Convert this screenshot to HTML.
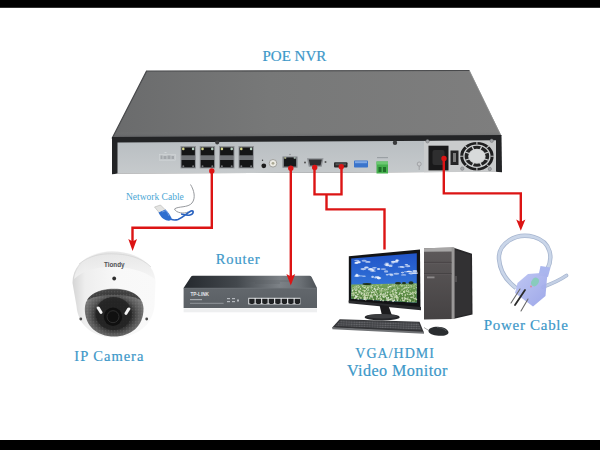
<!DOCTYPE html>
<html><head><meta charset="utf-8">
<style>
html,body{margin:0;padding:0;background:#fff;}
body{width:600px;height:450px;overflow:hidden;position:relative;}
svg{position:absolute;left:0;top:0;display:block;}
.lbl{font-family:"Liberation Serif",serif;fill:#3d98c9;stroke:#3d98c9;stroke-width:0.2;}
</style></head>
<body>
<svg width="600" height="450" viewBox="0 0 600 450">
<defs>
  <linearGradient id="nvrTopH" x1="0" y1="0" x2="1" y2="0">
    <stop offset="0" stop-color="#6a6b6c"/>
    <stop offset="0.4" stop-color="#777878"/>
    <stop offset="1" stop-color="#7e7e7e"/>
  </linearGradient>
  <linearGradient id="nvrTop" x1="0" y1="0" x2="0" y2="1">
    <stop offset="0" stop-color="#7b7c7c" stop-opacity="0"/>
    <stop offset="0.9" stop-color="#7a7b7b" stop-opacity="0"/>
    <stop offset="1" stop-color="#55565a" stop-opacity="1"/>
  </linearGradient>
  <linearGradient id="panel" x1="0" y1="0" x2="0" y2="1">
    <stop offset="0" stop-color="#b9bec2"/>
    <stop offset="1" stop-color="#c6cacc"/>
  </linearGradient>
  <linearGradient id="rtTop" x1="0" y1="0" x2="1" y2="0">
    <stop offset="0" stop-color="#25292e"/>
    <stop offset="0.4" stop-color="#43484d"/>
    <stop offset="0.72" stop-color="#7d8287"/>
    <stop offset="0.88" stop-color="#6a6f74"/>
    <stop offset="1" stop-color="#4c5156"/>
  </linearGradient>
  <linearGradient id="rtFront" x1="0" y1="0" x2="0" y2="1">
    <stop offset="0" stop-color="#62676c"/>
    <stop offset="1" stop-color="#5a5f64"/>
  </linearGradient>
  <linearGradient id="sky" x1="0" y1="0" x2="0" y2="1">
    <stop offset="0" stop-color="#2154c8"/>
    <stop offset="0.6" stop-color="#3070d6"/>
    <stop offset="1" stop-color="#4a8ae0"/>
  </linearGradient>
  <linearGradient id="field" x1="0" y1="0" x2="0" y2="1">
    <stop offset="0" stop-color="#7aa860"/>
    <stop offset="0.4" stop-color="#5f9048"/>
    <stop offset="1" stop-color="#4a7a36"/>
  </linearGradient>
  <pattern id="flowers" width="3" height="2.4" patternUnits="userSpaceOnUse">
    <circle cx="0.8" cy="0.7" r="0.6" fill="#eef3d8"/>
    <circle cx="2.3" cy="1.9" r="0.55" fill="#dfe9c0"/>
  </pattern>
  <pattern id="keys" width="2.6" height="2.1" patternUnits="userSpaceOnUse" patternTransform="rotate(2)">
    <rect x="0.3" y="0.3" width="2" height="1.4" fill="#68696d"/>
  </pattern>
  <filter id="blur" x="-20%" y="-50%" width="140%" height="200%"><feGaussianBlur stdDeviation="0.6"/></filter>
  <linearGradient id="towerFront" x1="0" y1="0" x2="0" y2="1">
    <stop offset="0" stop-color="#5e5a5b"/>
    <stop offset="1" stop-color="#454243"/>
  </linearGradient>
  <linearGradient id="camBody" x1="0" y1="0" x2="1" y2="0">
    <stop offset="0" stop-color="#d5d5d5"/>
    <stop offset="0.15" stop-color="#eeeeee"/>
    <stop offset="0.55" stop-color="#f8f8f8"/>
    <stop offset="1" stop-color="#f9f9f9"/>
  </linearGradient>
  <linearGradient id="camCap" x1="0" y1="0" x2="0" y2="1">
    <stop offset="0" stop-color="#e2e2e2"/>
    <stop offset="1" stop-color="#f4f4f4"/>
  </linearGradient>
  <radialGradient id="dome" cx="0.5" cy="0.55" r="0.6">
    <stop offset="0" stop-color="#1e1e1e"/>
    <stop offset="0.5" stop-color="#2e2e2e"/>
    <stop offset="0.68" stop-color="#5c5c5c"/>
    <stop offset="1" stop-color="#8c8c8c"/>
  </radialGradient>
  <pattern id="speck" width="3" height="3" patternUnits="userSpaceOnUse">
    <circle cx="0.7" cy="0.8" r="0.5" fill="#9a9a9a"/>
    <circle cx="2.2" cy="2.1" r="0.45" fill="#222"/>
  </pattern>
  <linearGradient id="plug" x1="0" y1="0" x2="1" y2="1">
    <stop offset="0" stop-color="#bcc4f2"/>
    <stop offset="1" stop-color="#98a3e8"/>
  </linearGradient>
</defs>

<!-- black bars -->
<rect x="0" y="0" width="600" height="7.8" fill="#000"/>
<rect x="0" y="440" width="600" height="10" fill="#000"/>

<!-- title -->
<text class="lbl" x="262.5" y="60.7" font-size="15">POE NVR</text>

<!-- ============ NVR ============ -->
<polygon points="146.5,71.2 469.5,70.5 501.5,136 112,138.5" fill="url(#nvrTopH)"/>
<polygon points="146.5,71.2 469.5,70.5 501.5,136 112,138.5" fill="url(#nvrTop)"/>
<polyline points="112,138.5 146.5,71.2 469.5,70.5" fill="none" stroke="#48494b" stroke-width="1.2"/>
<line x1="469.5" y1="71" x2="500.5" y2="135" stroke="#8f9090" stroke-width="0.8"/>

<polygon points="112,137 501.5,135 502,172.5 112,174.5" fill="#232426"/>
<polygon points="117.5,142.5 496,140.5 496,171.8 117.5,173.5" fill="url(#panel)"/>
<polygon points="117.5,173.5 496,171.8 502,172.5 502,174 112,176 112,174.5" fill="#ffffff"/>
<!-- psu plate -->
<polygon points="424,141 496,140.6 496,171.8 424,172.2" fill="#c9cbcc"/>
<!-- label -->
<rect x="159.6" y="154.3" width="16" height="6" fill="#c4c8cb" stroke="#d4d7da" stroke-width="0.5"/>
<g fill="#a3a7ab"><rect x="160.5" y="155.5" width="2" height="3.5"/><rect x="163.5" y="156" width="3" height="3"/><rect x="167.5" y="155.5" width="3" height="3.5"/><rect x="171.5" y="156" width="2.5" height="3"/></g>
<rect x="164.5" y="152" width="2" height="0.8" fill="#d8dbde"/>
<!-- 8 LAN ports -->
<g id="port">
  <rect x="180.5" y="146" width="15.4" height="22.4" fill="#8e9195"/>
  <path d="M181.5,147.4 h13.4 v8.2 h-13.4 z" fill="#141516"/>
  <path d="M181.5,160 h13.4 v7.4 h-13.4 z" fill="#141516"/>
  <rect x="181.5" y="155.6" width="13.4" height="4.4" fill="#6f7276"/>
  <circle cx="183.3" cy="148.9" r="1.3" fill="#d6d78a"/>
  <circle cx="193.1" cy="148.9" r="1.3" fill="#b5cfbf"/>
  <circle cx="183.3" cy="166.2" r="1" fill="#77797c"/>
  <circle cx="193.1" cy="166.2" r="1" fill="#77797c"/>
</g>
<use href="#port" x="19.2"/>
<use href="#port" x="38.6"/>
<use href="#port" x="58"/>
<!-- misc connectors -->
<circle cx="263.8" cy="165.8" r="2.4" fill="#1b1b1b"/>
<circle cx="262.5" cy="160.3" r="0.7" fill="#333"/>
<circle cx="273" cy="163.3" r="3.8" fill="#ecebe4" stroke="#9a9a96" stroke-width="0.9"/>
<circle cx="273" cy="163.3" r="1.4" fill="#aaa894"/>
<path d="M282.5,156.5 h15 v11.2 h-15 z" fill="#7d8084"/>
<path d="M284,158.6 h2.5 v-1 h7 v1 h2.5 v8 h-12 z" fill="#17181a"/>
<circle cx="285.2" cy="158" r="0.8" fill="#c9cf8a"/><circle cx="294.8" cy="158" r="0.8" fill="#b8d0c0"/>
<circle cx="290" cy="154.5" r="0.8" fill="#8a8c90"/>
<path d="M307,158.3 h16.5 l-1.8,8.4 h-12.9 z" fill="#8d9094"/>
<path d="M308.8,159.6 h13 l-1.3,5.9 h-10.4 z" fill="#2e2f31"/>
<circle cx="305" cy="162.5" r="1" fill="#555"/><circle cx="325.5" cy="162" r="1" fill="#555"/>
<rect x="334" y="162.3" width="13.5" height="5.2" rx="1" fill="#2a2a2b"/>
<rect x="335.5" y="163.3" width="10.5" height="2" fill="#555"/>
<rect x="354" y="160.4" width="14" height="7.2" rx="0.8" fill="#3a74cc"/>
<rect x="355" y="161.2" width="12" height="2" fill="#7fa8e4"/>
<rect x="376.5" y="161.5" width="11.5" height="12" fill="#45b04d"/>
<rect x="376.5" y="161.5" width="11.5" height="3" fill="#6cc872"/>
<rect x="378.5" y="167" width="3" height="5" fill="#1f6f29"/>
<rect x="383" y="167" width="3" height="5" fill="#1f6f29"/>
<rect x="377" y="157" width="11" height="1.2" fill="#9aa0a4"/>
<circle cx="395" cy="142.8" r="2.2" fill="#3a3b3d"/>
<circle cx="217.2" cy="142.6" r="2" fill="#3a3b3d"/>
<circle cx="419.2" cy="164" r="2" fill="#c7c9cb" stroke="#8a8c8f" stroke-width="0.6"/>
<line x1="419.2" y1="166" x2="419.2" y2="170" stroke="#8a8c8f" stroke-width="0.6"/>
<!-- psu -->
<rect x="428.5" y="145.7" width="20" height="24.7" fill="#19191a"/>
<rect x="432.5" y="150" width="12" height="15" rx="2" fill="#2e2e2f"/>
<rect x="450.5" y="150.5" width="8" height="14.5" fill="#242425"/>
<rect x="453" y="153" width="3" height="9" fill="#7a7a7a"/>
<g transform="translate(476.9,156.2) scale(1.17,1)">
<circle r="14.2" fill="#cfd1d2"/>
<circle r="13" fill="none" stroke="#1f1f20" stroke-width="2.6"/>
<g stroke="#cfd1d2" stroke-width="0.9"><line x1="0.00" y1="-11.80" x2="0.00" y2="-14.50"/><line x1="8.34" y1="-8.34" x2="10.25" y2="-10.25"/><line x1="11.80" y1="0.00" x2="14.50" y2="0.00"/><line x1="8.34" y1="8.34" x2="10.25" y2="10.25"/><line x1="0.00" y1="11.80" x2="0.00" y2="14.50"/><line x1="-8.34" y1="8.34" x2="-10.25" y2="10.25"/><line x1="-11.80" y1="0.00" x2="-14.50" y2="0.00"/><line x1="-8.34" y1="-8.34" x2="-10.25" y2="-10.25"/></g>
<circle r="9" fill="none" stroke="#232324" stroke-width="3"/>
<g stroke="#cfd1d2" stroke-width="1.1"><line x1="2.49" y1="-6.01" x2="4.13" y2="-9.98"/><line x1="6.01" y1="-2.49" x2="9.98" y2="-4.13"/><line x1="6.01" y1="2.49" x2="9.98" y2="4.13"/><line x1="2.49" y1="6.01" x2="4.13" y2="9.98"/><line x1="-2.49" y1="6.01" x2="-4.13" y2="9.98"/><line x1="-6.01" y1="2.49" x2="-9.98" y2="4.13"/><line x1="-6.01" y1="-2.49" x2="-9.98" y2="-4.13"/><line x1="-2.49" y1="-6.01" x2="-4.13" y2="-9.98"/></g>
<circle r="6.6" fill="#d8dadb"/>
</g>
<g fill="#a3a5a8" stroke="#6f7174" stroke-width="0.5">
  <circle cx="427.5" cy="141.3" r="1.7"/><circle cx="491.7" cy="140.8" r="1.7"/>
  <circle cx="462.3" cy="168.6" r="1.7"/><circle cx="489.8" cy="169" r="1.7"/>
</g>

<!-- network cable text -->
<text class="lbl" x="126" y="199.8" font-size="9.5" style="stroke-width:0;fill:#4aa6d4">Network Cable</text>
<!-- network cable icon -->
<path d="M190.5,184.5 C194,190 196,198 192,203 C188,208 178,206 174.5,209 C176,213 184,214 188,212" fill="none" stroke="#8a8d92" stroke-width="0.9"/>
<path d="M166,215 C168,219 173,221 178,219.5 C183,217.5 187,213 191,211 C194,210 194,214 190,215 C186,216 183,214 181,214" fill="none" stroke="#2a63c0" stroke-width="1.7"/>
<polygon points="154.5,207 160.5,205 165.5,210 159.5,213" fill="#e4e4e2" stroke="#a9aaa8" stroke-width="0.5"/>
<path d="M158.5,212.5 L165.5,209.5 C168,212 170,215 171.5,218 C172,220 170,221 167,220.5 C163,219.5 160,216 158.5,212.5 Z" fill="#2f6fcf"/><path d="M162,212 L166,210.5 C167.5,212.5 168.5,214.5 169,216" fill="none" stroke="#7fa8e8" stroke-width="0.7"/>

<!-- ============ camera ============ -->
<path d="M72.5,283 C72.5,262 92,251.2 112,251.2 C136,251.2 155.5,263 155.5,282 L154.5,306 C152.5,326 136,337.5 114,337.5 C94,337.5 78,326 76.5,306 Z" fill="url(#camBody)"/>
<path d="M74,279 C76,262 95,251.5 112,251.5 C134,251.5 153,262 155,279 C142,270 129,267 112,267 C96,267 84,270 74,279 Z" fill="url(#camCap)" opacity="0.8"/>
<path d="M79,264 C90,255.5 100,253.8 111,253.8 C126,253.8 141,257 151,267" fill="none" stroke="#d2d2d2" stroke-width="0.7"/>
<text x="104" y="267.2" font-family="Liberation Sans,sans-serif" font-weight="bold" font-size="7.6" textLength="20.6" lengthAdjust="spacingAndGlyphs" fill="#4f5154">Tiondy</text>
<circle cx="114.2" cy="278.5" r="1.9" fill="#2e2e2e"/>
<path d="M84.8,309 C84.8,296 97,288.7 114,288.7 C131,288.7 143.5,296 143.5,309 C143.5,326 131,336.5 114,336.5 C97,336.5 84.8,326 84.8,309 Z" fill="url(#dome)"/>
<path d="M87,300 C92,292 102,289.5 114,289.5 C126,289.5 136,292 141,300 C133,296 124,295 114,295 C104,295 95,296 87,300 Z" fill="#2c2c2c" opacity="0.7"/>
<path d="M84.8,309 C84.8,296 97,288.7 114,288.7 C131,288.7 143.5,296 143.5,309 C143.5,326 131,336.5 114,336.5 C97,336.5 84.8,326 84.8,309 Z" fill="url(#speck)" opacity="0.35"/>
<ellipse cx="113.5" cy="313.5" rx="18" ry="16.5" fill="#232323" opacity="0.85"/>
<circle cx="113" cy="316.7" r="9.2" fill="#101010"/>
<circle cx="113" cy="316.7" r="6" fill="none" stroke="#2e2e2e" stroke-width="1"/>
<path d="M96.5,308 C96.5,306.5 98.5,306 99.5,307 L102.5,312 C103,313.5 101,314.5 100,313.5 Z" fill="#f4f4f4"/>
<path d="M130.5,309 C130.5,307.5 128.5,307 127.5,308 L124.5,313 C124,314.5 126,315.5 127,314.5 Z" fill="#f4f4f4"/>
<circle cx="80.8" cy="319" r="1.4" fill="#4a4a4a"/>
<circle cx="146.7" cy="319" r="1.4" fill="#4a4a4a"/>
<text class="lbl" x="74.3" y="360.5" font-size="14.5" letter-spacing="1.0">IP Camera</text>

<!-- ============ router ============ -->
<text class="lbl" x="215.7" y="264.3" font-size="14.5" letter-spacing="0.9">Router</text>
<path d="M193,275.8 L309.5,275.8 Q310.8,275.8 311.6,277.1 L317,288 L183.6,288 L190.8,277.1 Q191.5,275.8 193,275.8 Z" fill="url(#rtTop)"/>
<g stroke="#50555a" stroke-width="0.5" opacity="0.8"><line x1="245" y1="281" x2="290" y2="281"/><line x1="255" y1="283" x2="280" y2="283"/></g>
<polygon points="183.6,288 317,288 317,308 183.6,308" fill="url(#rtFront)"/>
<line x1="183.6" y1="288.2" x2="317" y2="288.2" stroke="#767b80" stroke-width="0.6"/>
<rect x="183.6" y="308.3" width="133.4" height="4" fill="#eeeff0"/>
<text x="190.5" y="296" font-family="Liberation Sans,sans-serif" font-weight="bold" font-size="4.8" textLength="18.5" lengthAdjust="spacingAndGlyphs" fill="#e2e5e8">TP-LINK</text>
<rect x="190" y="299" width="12" height="1.2" fill="#a7abb0"/>
<rect x="190" y="302.8" width="33.6" height="1" fill="#90949a"/>
<g fill="#b5b9be"><rect x="227" y="298" width="3" height="1.2"/><rect x="232" y="298" width="3" height="1.2"/><rect x="227" y="301" width="3" height="1.2"/><rect x="232" y="301" width="3" height="1.2"/><rect x="237" y="299.5" width="2" height="2"/></g>
<rect x="248.3" y="297.8" width="52.1" height="6.6" fill="#e7e9eb"/>
<g id="rp" fill="#1f2123">
  <path d="M249.2,298.8 h5.4 v4.6 h-1.2 v0.6 h-3 v-0.6 h-1.2 z"/>
</g>
<use href="#rp" x="6.5"/><use href="#rp" x="13"/><use href="#rp" x="19.5"/><use href="#rp" x="26"/><use href="#rp" x="32.5"/><use href="#rp" x="39"/><use href="#rp" x="45.5"/>

<!-- ============ monitor ============ -->
<polygon points="348.8,256.2 420,249.6 420.5,309 348.8,302" fill="#121315"/>
<polygon points="351.2,258.4 416.8,253.3 416.8,302.8 351.2,298.8" fill="url(#sky)"/>
<g fill="#f4f8ff" filter="url(#blur)"><ellipse cx="358.9" cy="262.1" rx="1.9" ry="1.0" opacity="0.70"/><ellipse cx="356.8" cy="260.5" rx="2.7" ry="0.8" opacity="0.54"/><ellipse cx="367.9" cy="261.9" rx="2.7" ry="0.9" opacity="0.71"/><ellipse cx="357.8" cy="262.4" rx="2.8" ry="0.9" opacity="0.75"/><ellipse cx="364.1" cy="260.7" rx="2.6" ry="1.0" opacity="0.57"/><ellipse cx="356.4" cy="263.1" rx="2.1" ry="1.0" opacity="0.80"/><ellipse cx="371.0" cy="269.3" rx="1.9" ry="1.1" opacity="0.63"/><ellipse cx="374.1" cy="269.1" rx="1.4" ry="0.7" opacity="0.54"/><ellipse cx="374.5" cy="267.8" rx="2.3" ry="0.8" opacity="0.65"/><ellipse cx="366.4" cy="267.6" rx="2.3" ry="1.0" opacity="0.81"/><ellipse cx="370.5" cy="269.3" rx="2.7" ry="1.2" opacity="0.72"/><ellipse cx="363.3" cy="269.1" rx="2.9" ry="1.1" opacity="0.68"/><ellipse cx="383.4" cy="269.1" rx="2.7" ry="0.9" opacity="0.56"/><ellipse cx="373.0" cy="271.1" rx="3.0" ry="0.7" opacity="0.77"/><ellipse cx="378.6" cy="269.0" rx="1.7" ry="1.1" opacity="0.80"/><ellipse cx="372.7" cy="270.3" rx="1.3" ry="1.0" opacity="0.58"/><ellipse cx="386.1" cy="271.4" rx="2.1" ry="1.2" opacity="0.57"/><ellipse cx="373.2" cy="270.3" rx="1.3" ry="0.7" opacity="0.61"/><ellipse cx="387.1" cy="264.0" rx="1.3" ry="1.1" opacity="0.58"/><ellipse cx="390.6" cy="266.2" rx="1.9" ry="0.9" opacity="0.66"/><ellipse cx="387.4" cy="265.3" rx="2.2" ry="1.0" opacity="0.83"/><ellipse cx="386.1" cy="264.8" rx="2.5" ry="0.7" opacity="0.57"/><ellipse cx="390.8" cy="265.1" rx="2.2" ry="0.6" opacity="0.62"/><ellipse cx="386.8" cy="263.6" rx="2.3" ry="1.0" opacity="0.47"/><ellipse cx="396.0" cy="261.9" rx="2.4" ry="0.8" opacity="0.73"/><ellipse cx="396.9" cy="260.6" rx="1.3" ry="1.0" opacity="0.84"/><ellipse cx="393.0" cy="261.9" rx="2.3" ry="0.8" opacity="0.60"/><ellipse cx="393.5" cy="261.6" rx="2.3" ry="0.8" opacity="0.60"/><ellipse cx="397.2" cy="260.6" rx="2.2" ry="1.0" opacity="0.57"/><ellipse cx="392.8" cy="262.9" rx="1.6" ry="0.7" opacity="0.62"/><ellipse cx="406.4" cy="264.8" rx="1.8" ry="0.8" opacity="0.78"/><ellipse cx="403.3" cy="267.1" rx="1.5" ry="0.8" opacity="0.71"/><ellipse cx="408.6" cy="265.9" rx="1.6" ry="0.7" opacity="0.66"/><ellipse cx="400.3" cy="266.9" rx="2.7" ry="0.7" opacity="0.56"/><ellipse cx="407.7" cy="266.4" rx="2.7" ry="0.8" opacity="0.50"/><ellipse cx="401.5" cy="266.9" rx="1.7" ry="0.8" opacity="0.62"/><ellipse cx="406.7" cy="271.7" rx="2.9" ry="0.7" opacity="0.45"/><ellipse cx="415.1" cy="273.1" rx="3.0" ry="0.9" opacity="0.83"/><ellipse cx="414.8" cy="271.2" rx="2.5" ry="1.1" opacity="0.72"/><ellipse cx="408.3" cy="271.4" rx="1.8" ry="0.7" opacity="0.48"/><ellipse cx="409.4" cy="271.4" rx="2.7" ry="0.6" opacity="0.81"/><ellipse cx="411.1" cy="273.3" rx="2.8" ry="1.1" opacity="0.68"/><ellipse cx="387.2" cy="274.7" rx="1.5" ry="0.8" opacity="0.72"/><ellipse cx="396.4" cy="273.7" rx="2.9" ry="1.0" opacity="0.59"/><ellipse cx="391.5" cy="275.1" rx="2.1" ry="1.1" opacity="0.59"/><ellipse cx="390.6" cy="274.1" rx="2.7" ry="0.7" opacity="0.77"/><ellipse cx="403.6" cy="274.9" rx="2.7" ry="0.6" opacity="0.70"/><ellipse cx="402.5" cy="272.6" rx="1.7" ry="0.8" opacity="0.66"/><ellipse cx="360.9" cy="275.9" rx="2.6" ry="0.6" opacity="0.47"/><ellipse cx="356.8" cy="274.9" rx="1.3" ry="1.2" opacity="0.79"/><ellipse cx="356.2" cy="276.0" rx="1.8" ry="0.8" opacity="0.59"/><ellipse cx="364.1" cy="276.3" rx="1.8" ry="0.7" opacity="0.58"/><ellipse cx="356.7" cy="276.2" rx="2.5" ry="0.8" opacity="0.48"/><ellipse cx="357.5" cy="275.6" rx="2.3" ry="1.1" opacity="0.60"/><ellipse cx="378.0" cy="277.4" rx="2.0" ry="0.8" opacity="0.65"/><ellipse cx="377.0" cy="276.8" rx="2.4" ry="0.9" opacity="0.55"/><ellipse cx="375.4" cy="277.6" rx="1.3" ry="0.9" opacity="0.62"/><ellipse cx="378.8" cy="278.3" rx="1.9" ry="1.1" opacity="0.77"/><ellipse cx="372.6" cy="276.9" rx="1.4" ry="1.1" opacity="0.71"/><ellipse cx="378.9" cy="277.9" rx="2.4" ry="1.0" opacity="0.68"/></g>
<polygon points="351.2,284.6 416.8,283.2 416.8,302.8 351.2,298.8" fill="url(#field)"/>
<g opacity="0.8"><circle cx="380.9" cy="293.4" r="0.75" fill="#dfe9c6"/><circle cx="380.9" cy="298.1" r="0.54" fill="#cfe0b0"/><circle cx="382.4" cy="294.3" r="0.48" fill="#dfe9c6"/><circle cx="371.2" cy="286.1" r="0.54" fill="#f4f6e6"/><circle cx="390.2" cy="290.9" r="0.52" fill="#cfe0b0"/><circle cx="393.8" cy="294.8" r="0.74" fill="#f4f6e6"/><circle cx="355.4" cy="287.7" r="0.39" fill="#f4f6e6"/><circle cx="402.1" cy="289.9" r="0.55" fill="#e8efd0"/><circle cx="385.2" cy="294.8" r="0.61" fill="#f4f6e6"/><circle cx="381.2" cy="289.0" r="0.67" fill="#f4f6e6"/><circle cx="397.5" cy="289.6" r="0.42" fill="#ffffff"/><circle cx="353.4" cy="292.8" r="0.44" fill="#f4f6e6"/><circle cx="406.5" cy="291.0" r="0.70" fill="#f4f6e6"/><circle cx="365.4" cy="298.4" r="0.49" fill="#dfe9c6"/><circle cx="415.2" cy="291.3" r="0.39" fill="#e8efd0"/><circle cx="402.1" cy="288.9" r="0.36" fill="#ffffff"/><circle cx="352.5" cy="290.7" r="0.70" fill="#e8efd0"/><circle cx="367.5" cy="286.3" r="0.32" fill="#dfe9c6"/><circle cx="363.0" cy="293.0" r="0.57" fill="#e8efd0"/><circle cx="415.5" cy="298.2" r="0.62" fill="#dfe9c6"/><circle cx="359.1" cy="290.9" r="0.44" fill="#ffffff"/><circle cx="407.7" cy="301.6" r="0.76" fill="#f4f6e6"/><circle cx="365.2" cy="290.6" r="0.67" fill="#cfe0b0"/><circle cx="358.0" cy="298.9" r="0.58" fill="#ffffff"/><circle cx="352.1" cy="293.4" r="0.74" fill="#dfe9c6"/><circle cx="356.3" cy="286.3" r="0.47" fill="#e8efd0"/><circle cx="352.5" cy="290.2" r="0.57" fill="#e8efd0"/><circle cx="413.8" cy="292.8" r="0.59" fill="#dfe9c6"/><circle cx="363.4" cy="287.2" r="0.59" fill="#cfe0b0"/><circle cx="367.7" cy="287.6" r="0.55" fill="#cfe0b0"/><circle cx="364.3" cy="298.7" r="0.88" fill="#cfe0b0"/><circle cx="356.6" cy="285.7" r="0.32" fill="#cfe0b0"/><circle cx="414.1" cy="288.3" r="0.56" fill="#ffffff"/><circle cx="378.9" cy="298.8" r="0.69" fill="#cfe0b0"/><circle cx="362.9" cy="295.3" r="0.45" fill="#e8efd0"/><circle cx="382.7" cy="295.0" r="0.66" fill="#f4f6e6"/><circle cx="369.7" cy="298.5" r="0.56" fill="#f4f6e6"/><circle cx="356.0" cy="290.8" r="0.45" fill="#f4f6e6"/><circle cx="363.0" cy="290.2" r="0.56" fill="#e8efd0"/><circle cx="357.5" cy="287.0" r="0.45" fill="#ffffff"/><circle cx="394.2" cy="296.0" r="0.66" fill="#e8efd0"/><circle cx="389.8" cy="299.7" r="0.69" fill="#ffffff"/><circle cx="397.1" cy="300.8" r="0.48" fill="#f4f6e6"/><circle cx="382.8" cy="296.2" r="0.56" fill="#f4f6e6"/><circle cx="356.4" cy="292.6" r="0.68" fill="#e8efd0"/><circle cx="403.1" cy="300.3" r="0.63" fill="#dfe9c6"/><circle cx="410.1" cy="299.8" r="0.64" fill="#f4f6e6"/><circle cx="407.6" cy="294.3" r="0.64" fill="#dfe9c6"/><circle cx="376.1" cy="284.9" r="0.30" fill="#f4f6e6"/><circle cx="393.1" cy="301.0" r="0.90" fill="#ffffff"/><circle cx="376.7" cy="296.1" r="0.68" fill="#dfe9c6"/><circle cx="381.6" cy="293.2" r="0.59" fill="#cfe0b0"/><circle cx="353.4" cy="293.3" r="0.59" fill="#e8efd0"/><circle cx="413.7" cy="286.0" r="0.54" fill="#dfe9c6"/><circle cx="368.1" cy="285.0" r="0.37" fill="#cfe0b0"/><circle cx="364.7" cy="287.4" r="0.60" fill="#dfe9c6"/><circle cx="383.9" cy="288.4" r="0.46" fill="#ffffff"/><circle cx="364.4" cy="291.2" r="0.66" fill="#e8efd0"/><circle cx="408.7" cy="290.9" r="0.56" fill="#ffffff"/><circle cx="365.1" cy="286.9" r="0.41" fill="#f4f6e6"/><circle cx="397.7" cy="300.6" r="0.60" fill="#e8efd0"/><circle cx="358.8" cy="291.6" r="0.72" fill="#dfe9c6"/><circle cx="376.4" cy="292.7" r="0.64" fill="#cfe0b0"/><circle cx="380.9" cy="285.7" r="0.30" fill="#cfe0b0"/><circle cx="354.2" cy="294.8" r="0.66" fill="#ffffff"/><circle cx="393.7" cy="293.8" r="0.64" fill="#dfe9c6"/><circle cx="381.1" cy="285.0" r="0.52" fill="#e8efd0"/><circle cx="402.2" cy="298.1" r="0.87" fill="#f4f6e6"/><circle cx="380.5" cy="294.5" r="0.67" fill="#ffffff"/><circle cx="413.8" cy="296.6" r="0.50" fill="#dfe9c6"/><circle cx="368.1" cy="295.4" r="0.74" fill="#cfe0b0"/><circle cx="397.9" cy="287.3" r="0.40" fill="#ffffff"/><circle cx="386.6" cy="299.9" r="0.70" fill="#e8efd0"/><circle cx="377.1" cy="296.9" r="0.84" fill="#f4f6e6"/><circle cx="378.2" cy="298.6" r="0.64" fill="#dfe9c6"/><circle cx="381.0" cy="294.5" r="0.77" fill="#dfe9c6"/><circle cx="387.3" cy="295.1" r="0.62" fill="#ffffff"/><circle cx="381.6" cy="294.9" r="0.49" fill="#f4f6e6"/><circle cx="365.4" cy="298.0" r="0.91" fill="#ffffff"/><circle cx="386.4" cy="297.3" r="0.58" fill="#f4f6e6"/><circle cx="374.2" cy="286.0" r="0.43" fill="#cfe0b0"/><circle cx="378.9" cy="288.9" r="0.64" fill="#e8efd0"/><circle cx="404.1" cy="285.2" r="0.53" fill="#e8efd0"/><circle cx="386.2" cy="295.6" r="0.80" fill="#dfe9c6"/><circle cx="361.2" cy="292.3" r="0.66" fill="#dfe9c6"/><circle cx="413.0" cy="293.0" r="0.74" fill="#f4f6e6"/><circle cx="400.8" cy="291.8" r="0.57" fill="#cfe0b0"/><circle cx="393.0" cy="293.1" r="0.71" fill="#cfe0b0"/><circle cx="368.2" cy="294.8" r="0.81" fill="#cfe0b0"/><circle cx="365.0" cy="297.3" r="0.89" fill="#cfe0b0"/><circle cx="369.2" cy="292.2" r="0.54" fill="#f4f6e6"/><circle cx="384.2" cy="294.3" r="0.41" fill="#f4f6e6"/><circle cx="385.0" cy="291.0" r="0.65" fill="#cfe0b0"/><circle cx="359.4" cy="286.3" r="0.35" fill="#cfe0b0"/><circle cx="381.3" cy="299.2" r="0.84" fill="#dfe9c6"/><circle cx="369.0" cy="291.9" r="0.42" fill="#dfe9c6"/><circle cx="410.1" cy="301.0" r="0.90" fill="#cfe0b0"/><circle cx="372.1" cy="287.6" r="0.51" fill="#ffffff"/><circle cx="359.9" cy="296.0" r="0.45" fill="#e8efd0"/><circle cx="361.6" cy="285.1" r="0.36" fill="#ffffff"/><circle cx="367.4" cy="292.2" r="0.57" fill="#cfe0b0"/><circle cx="359.5" cy="292.2" r="0.48" fill="#e8efd0"/><circle cx="397.1" cy="299.3" r="0.47" fill="#dfe9c6"/><circle cx="405.1" cy="295.0" r="0.62" fill="#cfe0b0"/><circle cx="393.0" cy="293.2" r="0.71" fill="#cfe0b0"/><circle cx="389.6" cy="286.6" r="0.59" fill="#ffffff"/><circle cx="410.2" cy="289.7" r="0.45" fill="#e8efd0"/><circle cx="365.7" cy="299.5" r="0.91" fill="#e8efd0"/><circle cx="409.3" cy="286.4" r="0.33" fill="#dfe9c6"/><circle cx="357.8" cy="296.7" r="0.63" fill="#e8efd0"/><circle cx="364.5" cy="294.0" r="0.73" fill="#f4f6e6"/><circle cx="364.6" cy="294.8" r="0.80" fill="#ffffff"/><circle cx="359.0" cy="292.1" r="0.67" fill="#cfe0b0"/><circle cx="416.4" cy="299.4" r="0.81" fill="#dfe9c6"/><circle cx="358.4" cy="285.6" r="0.45" fill="#cfe0b0"/><circle cx="410.3" cy="292.7" r="0.45" fill="#f4f6e6"/><circle cx="364.8" cy="297.1" r="0.89" fill="#f4f6e6"/><circle cx="389.2" cy="286.6" r="0.52" fill="#f4f6e6"/><circle cx="401.2" cy="289.9" r="0.51" fill="#cfe0b0"/><circle cx="374.5" cy="287.9" r="0.44" fill="#f4f6e6"/><circle cx="406.4" cy="287.3" r="0.46" fill="#ffffff"/><circle cx="377.8" cy="287.7" r="0.37" fill="#cfe0b0"/><circle cx="403.0" cy="289.8" r="0.37" fill="#dfe9c6"/><circle cx="388.5" cy="287.5" r="0.50" fill="#ffffff"/><circle cx="403.8" cy="288.7" r="0.63" fill="#e8efd0"/><circle cx="404.5" cy="291.3" r="0.68" fill="#cfe0b0"/><circle cx="396.7" cy="297.4" r="0.77" fill="#dfe9c6"/><circle cx="364.9" cy="287.6" r="0.57" fill="#ffffff"/><circle cx="382.0" cy="284.7" r="0.38" fill="#cfe0b0"/><circle cx="354.7" cy="288.9" r="0.66" fill="#ffffff"/><circle cx="373.5" cy="294.8" r="0.65" fill="#cfe0b0"/><circle cx="356.5" cy="292.2" r="0.57" fill="#e8efd0"/><circle cx="397.1" cy="297.3" r="0.86" fill="#f4f6e6"/><circle cx="359.0" cy="286.6" r="0.37" fill="#dfe9c6"/><circle cx="377.6" cy="285.4" r="0.35" fill="#dfe9c6"/><circle cx="352.2" cy="288.7" r="0.42" fill="#ffffff"/><circle cx="387.3" cy="292.7" r="0.75" fill="#cfe0b0"/><circle cx="406.5" cy="285.8" r="0.43" fill="#f4f6e6"/><circle cx="387.2" cy="295.4" r="0.81" fill="#dfe9c6"/><circle cx="412.0" cy="286.8" r="0.46" fill="#e8efd0"/><circle cx="407.1" cy="293.8" r="0.62" fill="#dfe9c6"/><circle cx="412.9" cy="291.7" r="0.56" fill="#cfe0b0"/><circle cx="371.8" cy="292.8" r="0.57" fill="#ffffff"/><circle cx="387.9" cy="289.1" r="0.58" fill="#ffffff"/><circle cx="353.2" cy="295.6" r="0.69" fill="#e8efd0"/><circle cx="378.1" cy="295.3" r="0.44" fill="#ffffff"/><circle cx="400.1" cy="285.0" r="0.58" fill="#ffffff"/><circle cx="356.3" cy="297.6" r="0.66" fill="#dfe9c6"/><circle cx="367.8" cy="296.0" r="0.45" fill="#f4f6e6"/><circle cx="412.4" cy="297.2" r="0.62" fill="#e8efd0"/><circle cx="390.7" cy="286.3" r="0.49" fill="#dfe9c6"/><circle cx="359.2" cy="297.1" r="0.61" fill="#e8efd0"/><circle cx="359.6" cy="291.3" r="0.61" fill="#dfe9c6"/><circle cx="390.6" cy="295.0" r="0.69" fill="#ffffff"/><circle cx="402.1" cy="293.4" r="0.77" fill="#ffffff"/><circle cx="399.2" cy="288.3" r="0.36" fill="#ffffff"/><circle cx="402.5" cy="295.1" r="0.55" fill="#ffffff"/><circle cx="391.1" cy="296.4" r="0.72" fill="#e8efd0"/><circle cx="392.7" cy="297.0" r="0.51" fill="#e8efd0"/><circle cx="384.1" cy="295.0" r="0.49" fill="#f4f6e6"/><circle cx="392.3" cy="284.5" r="0.36" fill="#f4f6e6"/><circle cx="392.0" cy="286.0" r="0.46" fill="#f4f6e6"/><circle cx="400.6" cy="300.1" r="0.54" fill="#e8efd0"/><circle cx="392.5" cy="290.6" r="0.52" fill="#e8efd0"/><circle cx="373.5" cy="292.3" r="0.43" fill="#f4f6e6"/><circle cx="403.6" cy="292.0" r="0.67" fill="#e8efd0"/><circle cx="380.4" cy="296.4" r="0.60" fill="#e8efd0"/><circle cx="375.5" cy="294.7" r="0.82" fill="#ffffff"/><circle cx="370.4" cy="296.2" r="0.79" fill="#e8efd0"/><circle cx="379.3" cy="290.4" r="0.39" fill="#ffffff"/><circle cx="356.6" cy="286.2" r="0.46" fill="#dfe9c6"/><circle cx="404.5" cy="292.3" r="0.68" fill="#f4f6e6"/><circle cx="356.4" cy="288.0" r="0.54" fill="#f4f6e6"/><circle cx="396.7" cy="292.7" r="0.67" fill="#ffffff"/><circle cx="369.9" cy="286.9" r="0.42" fill="#ffffff"/><circle cx="375.3" cy="286.5" r="0.52" fill="#cfe0b0"/><circle cx="390.2" cy="299.4" r="0.78" fill="#ffffff"/><circle cx="380.0" cy="297.2" r="0.57" fill="#ffffff"/><circle cx="365.9" cy="299.0" r="0.82" fill="#cfe0b0"/><circle cx="367.6" cy="290.2" r="0.48" fill="#ffffff"/><circle cx="395.5" cy="294.2" r="0.71" fill="#cfe0b0"/><circle cx="375.4" cy="290.7" r="0.41" fill="#cfe0b0"/><circle cx="388.1" cy="287.3" r="0.55" fill="#ffffff"/><circle cx="404.3" cy="288.0" r="0.34" fill="#e8efd0"/><circle cx="388.4" cy="300.3" r="0.78" fill="#dfe9c6"/><circle cx="355.7" cy="292.6" r="0.70" fill="#f4f6e6"/><circle cx="373.2" cy="288.9" r="0.37" fill="#ffffff"/><circle cx="357.0" cy="293.9" r="0.47" fill="#dfe9c6"/><circle cx="367.5" cy="288.1" r="0.57" fill="#cfe0b0"/><circle cx="373.5" cy="291.7" r="0.50" fill="#ffffff"/><circle cx="395.2" cy="292.7" r="0.58" fill="#f4f6e6"/><circle cx="397.5" cy="300.0" r="0.65" fill="#ffffff"/><circle cx="407.0" cy="298.5" r="0.81" fill="#dfe9c6"/><circle cx="413.8" cy="295.7" r="0.62" fill="#f4f6e6"/><circle cx="403.6" cy="291.6" r="0.52" fill="#e8efd0"/><circle cx="367.5" cy="287.2" r="0.51" fill="#e8efd0"/><circle cx="372.4" cy="290.6" r="0.55" fill="#ffffff"/><circle cx="414.5" cy="285.0" r="0.38" fill="#f4f6e6"/><circle cx="371.2" cy="287.1" r="0.60" fill="#f4f6e6"/><circle cx="400.5" cy="284.4" r="0.42" fill="#f4f6e6"/><circle cx="371.8" cy="287.7" r="0.43" fill="#cfe0b0"/><circle cx="366.8" cy="295.4" r="0.68" fill="#e8efd0"/><circle cx="380.2" cy="298.7" r="0.64" fill="#ffffff"/><circle cx="392.2" cy="300.1" r="0.73" fill="#ffffff"/><circle cx="383.0" cy="291.0" r="0.71" fill="#cfe0b0"/><circle cx="401.7" cy="285.7" r="0.56" fill="#dfe9c6"/><circle cx="354.7" cy="298.1" r="0.85" fill="#dfe9c6"/><circle cx="414.9" cy="298.7" r="0.78" fill="#f4f6e6"/><circle cx="394.2" cy="288.3" r="0.33" fill="#dfe9c6"/><circle cx="410.3" cy="292.2" r="0.46" fill="#dfe9c6"/><circle cx="390.9" cy="287.0" r="0.36" fill="#ffffff"/><circle cx="360.9" cy="297.9" r="0.84" fill="#e8efd0"/><circle cx="392.9" cy="301.0" r="0.61" fill="#cfe0b0"/><circle cx="354.9" cy="293.0" r="0.46" fill="#e8efd0"/><circle cx="404.9" cy="299.1" r="0.82" fill="#f4f6e6"/><circle cx="374.4" cy="294.1" r="0.62" fill="#dfe9c6"/><circle cx="396.6" cy="285.7" r="0.52" fill="#cfe0b0"/><circle cx="407.2" cy="289.5" r="0.61" fill="#dfe9c6"/><circle cx="364.0" cy="294.8" r="0.74" fill="#dfe9c6"/><circle cx="365.0" cy="292.8" r="0.59" fill="#e8efd0"/><circle cx="413.0" cy="301.7" r="0.62" fill="#dfe9c6"/><circle cx="356.4" cy="289.3" r="0.50" fill="#f4f6e6"/><circle cx="374.9" cy="295.2" r="0.46" fill="#dfe9c6"/><circle cx="395.4" cy="297.0" r="0.77" fill="#f4f6e6"/><circle cx="394.0" cy="284.5" r="0.39" fill="#dfe9c6"/><circle cx="366.9" cy="293.2" r="0.57" fill="#f4f6e6"/><circle cx="407.1" cy="299.2" r="0.77" fill="#cfe0b0"/><circle cx="361.4" cy="293.9" r="0.79" fill="#ffffff"/><circle cx="413.5" cy="297.9" r="0.67" fill="#f4f6e6"/><circle cx="368.2" cy="287.8" r="0.55" fill="#ffffff"/><circle cx="371.6" cy="288.9" r="0.49" fill="#ffffff"/><circle cx="380.5" cy="290.6" r="0.39" fill="#cfe0b0"/><circle cx="357.6" cy="294.5" r="0.71" fill="#e8efd0"/><circle cx="364.1" cy="285.5" r="0.42" fill="#f4f6e6"/><circle cx="358.0" cy="285.5" r="0.57" fill="#dfe9c6"/><circle cx="377.9" cy="285.8" r="0.57" fill="#dfe9c6"/><circle cx="411.7" cy="286.5" r="0.37" fill="#e8efd0"/><circle cx="404.9" cy="290.9" r="0.48" fill="#dfe9c6"/><circle cx="392.0" cy="296.5" r="0.69" fill="#ffffff"/><circle cx="415.3" cy="298.6" r="0.73" fill="#cfe0b0"/><circle cx="385.9" cy="288.7" r="0.39" fill="#ffffff"/><circle cx="393.8" cy="286.1" r="0.42" fill="#cfe0b0"/><circle cx="373.1" cy="289.2" r="0.37" fill="#e8efd0"/><circle cx="368.0" cy="292.8" r="0.50" fill="#e8efd0"/><circle cx="374.4" cy="292.4" r="0.43" fill="#e8efd0"/><circle cx="415.6" cy="293.5" r="0.66" fill="#e8efd0"/><circle cx="388.4" cy="284.8" r="0.47" fill="#f4f6e6"/><circle cx="360.4" cy="291.8" r="0.53" fill="#ffffff"/><circle cx="372.9" cy="298.8" r="0.63" fill="#dfe9c6"/><circle cx="408.9" cy="292.2" r="0.64" fill="#e8efd0"/><circle cx="410.3" cy="293.9" r="0.61" fill="#cfe0b0"/><circle cx="411.0" cy="287.0" r="0.55" fill="#ffffff"/><circle cx="390.6" cy="286.4" r="0.56" fill="#ffffff"/><circle cx="396.0" cy="290.5" r="0.62" fill="#ffffff"/><circle cx="405.5" cy="287.4" r="0.49" fill="#f4f6e6"/><circle cx="381.0" cy="291.0" r="0.64" fill="#e8efd0"/><circle cx="371.5" cy="294.9" r="0.72" fill="#dfe9c6"/><circle cx="391.5" cy="295.0" r="0.72" fill="#e8efd0"/><circle cx="364.5" cy="291.7" r="0.43" fill="#dfe9c6"/><circle cx="359.2" cy="290.7" r="0.48" fill="#e8efd0"/><circle cx="368.6" cy="293.3" r="0.52" fill="#f4f6e6"/><circle cx="398.4" cy="297.8" r="0.61" fill="#dfe9c6"/><circle cx="390.5" cy="292.2" r="0.53" fill="#cfe0b0"/><circle cx="410.8" cy="294.3" r="0.55" fill="#ffffff"/><circle cx="383.1" cy="300.5" r="0.88" fill="#dfe9c6"/><circle cx="405.1" cy="286.1" r="0.34" fill="#cfe0b0"/><circle cx="373.0" cy="292.6" r="0.55" fill="#f4f6e6"/><circle cx="372.3" cy="285.6" r="0.50" fill="#dfe9c6"/><circle cx="399.1" cy="294.5" r="0.70" fill="#ffffff"/><circle cx="408.9" cy="299.9" r="0.57" fill="#dfe9c6"/><circle cx="367.3" cy="297.7" r="0.90" fill="#dfe9c6"/><circle cx="396.7" cy="293.3" r="0.48" fill="#ffffff"/><circle cx="394.2" cy="300.2" r="0.88" fill="#ffffff"/><circle cx="407.8" cy="291.6" r="0.66" fill="#e8efd0"/><circle cx="393.7" cy="291.4" r="0.41" fill="#f4f6e6"/><circle cx="357.9" cy="296.1" r="0.49" fill="#cfe0b0"/><circle cx="388.9" cy="291.9" r="0.48" fill="#ffffff"/><circle cx="353.1" cy="287.5" r="0.45" fill="#dfe9c6"/><circle cx="404.5" cy="291.1" r="0.49" fill="#cfe0b0"/><circle cx="366.5" cy="289.4" r="0.50" fill="#ffffff"/><circle cx="371.5" cy="292.3" r="0.73" fill="#dfe9c6"/><circle cx="408.6" cy="287.6" r="0.60" fill="#f4f6e6"/><circle cx="364.2" cy="297.0" r="0.61" fill="#dfe9c6"/><circle cx="352.5" cy="293.8" r="0.69" fill="#cfe0b0"/><circle cx="364.6" cy="294.1" r="0.48" fill="#f4f6e6"/><circle cx="393.8" cy="289.5" r="0.62" fill="#ffffff"/><circle cx="408.0" cy="296.9" r="0.48" fill="#dfe9c6"/><circle cx="378.5" cy="287.3" r="0.58" fill="#f4f6e6"/><circle cx="397.7" cy="287.6" r="0.38" fill="#e8efd0"/><circle cx="384.1" cy="289.3" r="0.43" fill="#cfe0b0"/><circle cx="409.0" cy="294.7" r="0.49" fill="#ffffff"/><circle cx="409.7" cy="287.2" r="0.39" fill="#e8efd0"/><circle cx="393.1" cy="285.8" r="0.59" fill="#dfe9c6"/><circle cx="411.1" cy="285.3" r="0.56" fill="#f4f6e6"/><circle cx="390.5" cy="289.1" r="0.42" fill="#cfe0b0"/><circle cx="357.2" cy="289.0" r="0.59" fill="#e8efd0"/><circle cx="363.2" cy="295.5" r="0.44" fill="#e8efd0"/><circle cx="415.7" cy="284.5" r="0.42" fill="#cfe0b0"/><circle cx="376.5" cy="299.0" r="0.70" fill="#e8efd0"/><circle cx="355.7" cy="295.8" r="0.83" fill="#ffffff"/><circle cx="394.3" cy="297.5" r="0.66" fill="#cfe0b0"/><circle cx="405.3" cy="295.4" r="0.81" fill="#cfe0b0"/><circle cx="362.8" cy="296.1" r="0.51" fill="#cfe0b0"/><circle cx="379.8" cy="295.1" r="0.64" fill="#ffffff"/><circle cx="402.6" cy="298.1" r="0.54" fill="#dfe9c6"/><circle cx="386.9" cy="298.4" r="0.72" fill="#ffffff"/><circle cx="353.8" cy="293.3" r="0.68" fill="#cfe0b0"/><circle cx="380.6" cy="298.5" r="0.60" fill="#cfe0b0"/><circle cx="352.7" cy="291.9" r="0.54" fill="#dfe9c6"/><circle cx="398.5" cy="299.0" r="0.47" fill="#f4f6e6"/><circle cx="410.5" cy="294.3" r="0.61" fill="#e8efd0"/><circle cx="392.0" cy="285.2" r="0.41" fill="#ffffff"/><circle cx="404.8" cy="297.2" r="0.76" fill="#cfe0b0"/><circle cx="383.9" cy="295.0" r="0.62" fill="#dfe9c6"/><circle cx="368.1" cy="287.2" r="0.53" fill="#cfe0b0"/><circle cx="402.6" cy="285.2" r="0.41" fill="#ffffff"/><circle cx="396.9" cy="296.3" r="0.82" fill="#e8efd0"/><circle cx="383.3" cy="296.7" r="0.86" fill="#e8efd0"/><circle cx="399.9" cy="293.2" r="0.76" fill="#f4f6e6"/><circle cx="367.1" cy="298.0" r="0.52" fill="#dfe9c6"/><circle cx="387.6" cy="292.2" r="0.72" fill="#f4f6e6"/><circle cx="395.7" cy="296.5" r="0.84" fill="#cfe0b0"/><circle cx="366.4" cy="288.6" r="0.51" fill="#e8efd0"/><circle cx="378.7" cy="286.0" r="0.36" fill="#ffffff"/><circle cx="373.4" cy="299.7" r="0.77" fill="#f4f6e6"/><circle cx="361.9" cy="293.3" r="0.79" fill="#ffffff"/><circle cx="388.4" cy="299.4" r="0.87" fill="#e8efd0"/><circle cx="381.6" cy="290.8" r="0.66" fill="#dfe9c6"/><circle cx="376.1" cy="285.4" r="0.41" fill="#e8efd0"/><circle cx="363.4" cy="292.9" r="0.45" fill="#e8efd0"/><circle cx="377.5" cy="293.9" r="0.70" fill="#dfe9c6"/><circle cx="380.6" cy="300.3" r="0.80" fill="#dfe9c6"/><circle cx="364.8" cy="290.5" r="0.38" fill="#ffffff"/><circle cx="375.1" cy="288.9" r="0.34" fill="#e8efd0"/><circle cx="399.7" cy="293.1" r="0.60" fill="#e8efd0"/><circle cx="369.0" cy="290.2" r="0.41" fill="#ffffff"/><circle cx="360.4" cy="288.4" r="0.60" fill="#f4f6e6"/><circle cx="352.8" cy="289.5" r="0.48" fill="#f4f6e6"/><circle cx="407.0" cy="290.9" r="0.45" fill="#cfe0b0"/><circle cx="395.0" cy="289.4" r="0.55" fill="#dfe9c6"/><circle cx="354.2" cy="287.2" r="0.49" fill="#f4f6e6"/><circle cx="365.1" cy="290.9" r="0.54" fill="#e8efd0"/><circle cx="385.1" cy="293.4" r="0.51" fill="#dfe9c6"/><circle cx="394.8" cy="286.8" r="0.37" fill="#ffffff"/><circle cx="386.3" cy="291.8" r="0.42" fill="#cfe0b0"/><circle cx="407.8" cy="288.1" r="0.42" fill="#ffffff"/><circle cx="391.2" cy="286.7" r="0.57" fill="#dfe9c6"/><circle cx="388.3" cy="297.7" r="0.87" fill="#ffffff"/><circle cx="394.4" cy="285.4" r="0.54" fill="#cfe0b0"/><circle cx="396.3" cy="295.6" r="0.81" fill="#ffffff"/><circle cx="366.7" cy="294.2" r="0.44" fill="#dfe9c6"/><circle cx="359.3" cy="292.0" r="0.56" fill="#ffffff"/><circle cx="370.0" cy="295.3" r="0.51" fill="#dfe9c6"/><circle cx="364.6" cy="296.1" r="0.59" fill="#e8efd0"/><circle cx="385.3" cy="296.5" r="0.82" fill="#e8efd0"/><circle cx="382.6" cy="288.6" r="0.61" fill="#ffffff"/><circle cx="397.0" cy="284.6" r="0.40" fill="#ffffff"/><circle cx="410.6" cy="300.6" r="0.59" fill="#dfe9c6"/><circle cx="383.7" cy="293.9" r="0.58" fill="#ffffff"/><circle cx="409.1" cy="285.3" r="0.30" fill="#ffffff"/><circle cx="409.5" cy="294.3" r="0.50" fill="#e8efd0"/><circle cx="393.3" cy="290.8" r="0.48" fill="#ffffff"/><circle cx="353.5" cy="294.8" r="0.51" fill="#f4f6e6"/><circle cx="392.3" cy="294.7" r="0.57" fill="#dfe9c6"/><circle cx="355.6" cy="286.0" r="0.43" fill="#dfe9c6"/><circle cx="376.3" cy="298.7" r="0.48" fill="#e8efd0"/><circle cx="395.9" cy="288.9" r="0.50" fill="#dfe9c6"/><circle cx="415.0" cy="286.6" r="0.37" fill="#e8efd0"/><circle cx="368.3" cy="288.1" r="0.49" fill="#cfe0b0"/><circle cx="415.2" cy="283.9" r="0.43" fill="#cfe0b0"/><circle cx="356.6" cy="296.5" r="0.84" fill="#ffffff"/><circle cx="368.7" cy="286.4" r="0.31" fill="#e8efd0"/><circle cx="396.7" cy="296.0" r="0.82" fill="#e8efd0"/><circle cx="361.9" cy="293.8" r="0.60" fill="#cfe0b0"/><circle cx="370.6" cy="291.0" r="0.50" fill="#cfe0b0"/><circle cx="383.9" cy="294.9" r="0.56" fill="#e8efd0"/><circle cx="411.1" cy="297.4" r="0.80" fill="#f4f6e6"/><circle cx="404.7" cy="299.8" r="0.60" fill="#dfe9c6"/><circle cx="384.8" cy="295.5" r="0.43" fill="#cfe0b0"/><circle cx="407.8" cy="299.7" r="0.48" fill="#ffffff"/><circle cx="377.3" cy="296.1" r="0.72" fill="#ffffff"/><circle cx="398.0" cy="288.5" r="0.57" fill="#ffffff"/><circle cx="363.4" cy="297.3" r="0.54" fill="#cfe0b0"/><circle cx="405.4" cy="294.2" r="0.56" fill="#e8efd0"/><circle cx="392.0" cy="298.3" r="0.80" fill="#e8efd0"/><circle cx="364.6" cy="293.9" r="0.52" fill="#e8efd0"/><circle cx="414.8" cy="292.6" r="0.63" fill="#e8efd0"/><circle cx="368.9" cy="288.9" r="0.42" fill="#dfe9c6"/><circle cx="376.6" cy="295.2" r="0.47" fill="#e8efd0"/><circle cx="397.9" cy="286.2" r="0.32" fill="#ffffff"/><circle cx="374.7" cy="293.0" r="0.70" fill="#dfe9c6"/><circle cx="373.0" cy="285.1" r="0.44" fill="#dfe9c6"/><circle cx="362.6" cy="285.9" r="0.42" fill="#ffffff"/><circle cx="366.0" cy="295.4" r="0.60" fill="#e8efd0"/><circle cx="415.3" cy="291.1" r="0.61" fill="#cfe0b0"/><circle cx="369.9" cy="297.7" r="0.65" fill="#f4f6e6"/><circle cx="387.7" cy="299.1" r="0.86" fill="#dfe9c6"/><circle cx="359.3" cy="289.6" r="0.35" fill="#cfe0b0"/><circle cx="388.5" cy="288.9" r="0.47" fill="#ffffff"/><circle cx="366.3" cy="291.9" r="0.51" fill="#ffffff"/><circle cx="387.8" cy="286.9" r="0.31" fill="#ffffff"/><circle cx="395.1" cy="284.3" r="0.38" fill="#e8efd0"/><circle cx="416.3" cy="287.6" r="0.60" fill="#dfe9c6"/><circle cx="353.6" cy="289.9" r="0.55" fill="#cfe0b0"/><circle cx="355.2" cy="292.7" r="0.65" fill="#cfe0b0"/><circle cx="367.9" cy="287.6" r="0.41" fill="#e8efd0"/><circle cx="416.1" cy="292.1" r="0.68" fill="#f4f6e6"/><circle cx="362.9" cy="285.3" r="0.33" fill="#f4f6e6"/><circle cx="395.4" cy="288.9" r="0.34" fill="#cfe0b0"/><circle cx="371.7" cy="292.5" r="0.39" fill="#e8efd0"/><circle cx="355.6" cy="290.1" r="0.62" fill="#ffffff"/><circle cx="404.2" cy="298.1" r="0.76" fill="#dfe9c6"/><circle cx="371.5" cy="292.8" r="0.64" fill="#f4f6e6"/><circle cx="412.3" cy="292.8" r="0.69" fill="#dfe9c6"/><circle cx="367.8" cy="298.3" r="0.47" fill="#cfe0b0"/><circle cx="360.7" cy="289.6" r="0.59" fill="#cfe0b0"/><circle cx="394.2" cy="298.0" r="0.60" fill="#dfe9c6"/><circle cx="374.5" cy="289.0" r="0.64" fill="#ffffff"/><circle cx="390.1" cy="288.8" r="0.40" fill="#e8efd0"/><circle cx="365.2" cy="295.7" r="0.66" fill="#e8efd0"/><circle cx="363.0" cy="286.5" r="0.34" fill="#ffffff"/><circle cx="363.4" cy="285.3" r="0.40" fill="#f4f6e6"/><circle cx="377.7" cy="289.6" r="0.53" fill="#e8efd0"/><circle cx="352.9" cy="287.5" r="0.34" fill="#cfe0b0"/><circle cx="358.5" cy="298.9" r="0.68" fill="#e8efd0"/><circle cx="384.0" cy="297.1" r="0.82" fill="#ffffff"/><circle cx="356.0" cy="290.5" r="0.69" fill="#e8efd0"/><circle cx="402.0" cy="293.3" r="0.39" fill="#dfe9c6"/><circle cx="410.7" cy="284.9" r="0.47" fill="#ffffff"/><circle cx="409.2" cy="299.5" r="0.73" fill="#cfe0b0"/><circle cx="414.5" cy="301.1" r="0.52" fill="#dfe9c6"/><circle cx="379.9" cy="292.0" r="0.69" fill="#cfe0b0"/><circle cx="366.5" cy="293.7" r="0.63" fill="#cfe0b0"/><circle cx="411.3" cy="293.6" r="0.56" fill="#ffffff"/><circle cx="390.1" cy="294.2" r="0.77" fill="#e8efd0"/><circle cx="386.4" cy="289.8" r="0.43" fill="#cfe0b0"/><circle cx="371.8" cy="295.9" r="0.85" fill="#dfe9c6"/><circle cx="354.9" cy="298.4" r="0.83" fill="#dfe9c6"/><circle cx="358.7" cy="287.7" r="0.61" fill="#e8efd0"/><circle cx="405.4" cy="298.3" r="0.66" fill="#ffffff"/><circle cx="355.7" cy="297.1" r="0.78" fill="#ffffff"/><circle cx="385.1" cy="290.1" r="0.42" fill="#f4f6e6"/><circle cx="407.8" cy="287.5" r="0.41" fill="#e8efd0"/><circle cx="356.3" cy="292.8" r="0.70" fill="#dfe9c6"/><circle cx="408.5" cy="285.3" r="0.44" fill="#f4f6e6"/><circle cx="401.6" cy="293.8" r="0.74" fill="#e8efd0"/><circle cx="404.3" cy="287.2" r="0.42" fill="#ffffff"/><circle cx="413.6" cy="287.9" r="0.42" fill="#dfe9c6"/><circle cx="363.3" cy="290.5" r="0.66" fill="#cfe0b0"/><circle cx="381.8" cy="292.3" r="0.41" fill="#e8efd0"/><circle cx="386.1" cy="289.6" r="0.67" fill="#e8efd0"/><circle cx="387.9" cy="300.7" r="0.66" fill="#ffffff"/><circle cx="397.0" cy="298.7" r="0.87" fill="#cfe0b0"/><circle cx="365.1" cy="288.0" r="0.57" fill="#e8efd0"/><circle cx="396.6" cy="292.2" r="0.42" fill="#f4f6e6"/><circle cx="368.3" cy="289.9" r="0.57" fill="#ffffff"/><circle cx="364.3" cy="299.3" r="0.81" fill="#ffffff"/><circle cx="408.1" cy="297.9" r="0.52" fill="#f4f6e6"/><circle cx="392.5" cy="291.5" r="0.66" fill="#dfe9c6"/><circle cx="369.7" cy="286.8" r="0.34" fill="#f4f6e6"/><circle cx="374.0" cy="295.5" r="0.52" fill="#cfe0b0"/><circle cx="359.1" cy="286.8" r="0.57" fill="#f4f6e6"/><circle cx="395.5" cy="292.0" r="0.72" fill="#dfe9c6"/><circle cx="364.4" cy="290.9" r="0.44" fill="#f4f6e6"/><circle cx="375.4" cy="289.8" r="0.55" fill="#ffffff"/><circle cx="370.5" cy="295.2" r="0.70" fill="#e8efd0"/><circle cx="352.5" cy="290.2" r="0.57" fill="#ffffff"/><circle cx="376.7" cy="289.0" r="0.37" fill="#cfe0b0"/><circle cx="358.3" cy="294.2" r="0.60" fill="#e8efd0"/><circle cx="357.2" cy="290.1" r="0.48" fill="#cfe0b0"/><circle cx="395.0" cy="290.1" r="0.66" fill="#f4f6e6"/><circle cx="394.9" cy="286.9" r="0.33" fill="#e8efd0"/><circle cx="381.7" cy="289.6" r="0.57" fill="#cfe0b0"/><circle cx="355.5" cy="288.2" r="0.33" fill="#dfe9c6"/><circle cx="379.7" cy="288.2" r="0.50" fill="#f4f6e6"/><circle cx="416.3" cy="285.1" r="0.43" fill="#dfe9c6"/><circle cx="402.9" cy="300.6" r="0.71" fill="#cfe0b0"/><circle cx="365.1" cy="290.3" r="0.40" fill="#dfe9c6"/><circle cx="357.7" cy="296.1" r="0.44" fill="#cfe0b0"/><circle cx="402.6" cy="300.1" r="0.77" fill="#dfe9c6"/><circle cx="401.9" cy="286.2" r="0.45" fill="#f4f6e6"/><circle cx="375.6" cy="290.3" r="0.65" fill="#f4f6e6"/><circle cx="358.6" cy="290.8" r="0.57" fill="#f4f6e6"/><circle cx="402.0" cy="285.8" r="0.60" fill="#cfe0b0"/><circle cx="359.6" cy="293.0" r="0.44" fill="#f4f6e6"/><circle cx="384.6" cy="289.5" r="0.46" fill="#e8efd0"/><circle cx="367.5" cy="291.0" r="0.38" fill="#e8efd0"/><circle cx="389.8" cy="287.2" r="0.35" fill="#e8efd0"/><circle cx="406.8" cy="285.9" r="0.56" fill="#e8efd0"/><circle cx="360.9" cy="293.0" r="0.46" fill="#cfe0b0"/><circle cx="391.3" cy="298.8" r="0.89" fill="#dfe9c6"/><circle cx="404.9" cy="288.1" r="0.59" fill="#f4f6e6"/><circle cx="399.2" cy="296.5" r="0.49" fill="#cfe0b0"/><circle cx="391.7" cy="291.1" r="0.54" fill="#cfe0b0"/><circle cx="393.3" cy="298.6" r="0.47" fill="#dfe9c6"/><circle cx="371.0" cy="288.0" r="0.50" fill="#dfe9c6"/><circle cx="372.9" cy="292.2" r="0.62" fill="#cfe0b0"/><circle cx="413.0" cy="294.4" r="0.59" fill="#f4f6e6"/><circle cx="377.1" cy="289.3" r="0.59" fill="#ffffff"/><circle cx="365.8" cy="286.1" r="0.53" fill="#dfe9c6"/><circle cx="374.8" cy="291.3" r="0.53" fill="#f4f6e6"/><circle cx="371.7" cy="292.8" r="0.45" fill="#dfe9c6"/><circle cx="387.1" cy="291.0" r="0.44" fill="#f4f6e6"/><circle cx="397.9" cy="284.8" r="0.39" fill="#e8efd0"/><circle cx="385.3" cy="293.0" r="0.67" fill="#ffffff"/><circle cx="377.9" cy="299.7" r="0.48" fill="#cfe0b0"/><circle cx="374.7" cy="288.5" r="0.65" fill="#ffffff"/><circle cx="406.1" cy="287.8" r="0.57" fill="#f4f6e6"/><circle cx="372.0" cy="292.3" r="0.58" fill="#ffffff"/><circle cx="354.9" cy="286.4" r="0.37" fill="#ffffff"/><circle cx="404.0" cy="300.8" r="0.77" fill="#ffffff"/><circle cx="377.6" cy="289.1" r="0.57" fill="#f4f6e6"/><circle cx="377.3" cy="288.1" r="0.41" fill="#f4f6e6"/><circle cx="372.1" cy="297.1" r="0.79" fill="#ffffff"/><circle cx="355.2" cy="295.6" r="0.45" fill="#cfe0b0"/><circle cx="356.9" cy="287.0" r="0.41" fill="#f4f6e6"/><circle cx="391.6" cy="295.8" r="0.50" fill="#cfe0b0"/><circle cx="351.9" cy="295.1" r="0.61" fill="#f4f6e6"/><circle cx="362.7" cy="286.2" r="0.50" fill="#e8efd0"/><circle cx="376.1" cy="291.6" r="0.53" fill="#f4f6e6"/></g>
<g fill="#22351c">
  <ellipse cx="367" cy="284" rx="4.5" ry="1.1"/>
  <ellipse cx="398" cy="283.3" rx="3" ry="1.2"/>
  <ellipse cx="404" cy="283.2" rx="2" ry="1.1"/>
  <ellipse cx="411" cy="282.8" rx="2.5" ry="1.6"/>
</g>
<polygon points="348.7,303.2 421,310.2 421,307 348.7,300.5" fill="#2a2b2e"/>
<polygon points="379.5,305 388.5,306 392,315.5 382,315.5" fill="#1c1c1e"/>
<ellipse cx="382.2" cy="317.2" rx="17.5" ry="3.3" fill="#26272a"/>
<ellipse cx="382.2" cy="316.2" rx="15" ry="2.2" fill="#3c3d40"/>
<!-- keyboard -->
<polygon points="339.7,319.3 419.5,321.8 424,332.8 332,327.8" fill="#333437"/>
<polygon points="340.5,320.3 418.5,322.7 421.5,330 335.5,325.8" fill="url(#keys)"/>
<polygon points="332,327.2 424,331.8 424,333.8 332.5,329.3" fill="#707275"/>
<path d="M424,327.5 C425.5,328.5 427,329.5 429,330.5" fill="none" stroke="#555" stroke-width="0.5"/>
<path d="M428.5,331 C428.5,328.5 432,326.8 437.5,326.7 C443.5,326.6 448.5,329.5 448.5,332.5 C448.5,335 444,336 438.5,335.8 C433,335.5 428.5,333.5 428.5,331 Z" fill="#2a2d30"/>
<path d="M437,327.5 C441,327.5 445,329 446,331" fill="none" stroke="#5a5d61" stroke-width="0.8"/>
<!-- tower -->
<polygon points="453,247.6 472,253.7 472.5,314.5 453,319" fill="#29282a"/>
<polygon points="455,250 470.5,255 471,313.5 455,317" fill="#323133"/>
<polygon points="424,248.3 453,247.6 453,319 424,319.5" fill="url(#towerFront)"/>
<polygon points="424,248.3 453,247.6 453,251.5 424,251.8" fill="#a7a6a6"/>
<rect x="451.6" y="247.6" width="3" height="71.4" fill="#9a9898"/>
<g stroke="#3d3a3b" stroke-width="0.7">
  <line x1="424" y1="262.4" x2="451.6" y2="262.4"/>
  <line x1="424" y1="273.6" x2="451.6" y2="273.6"/>
</g>
<g stroke="#6c6869" stroke-width="0.4">
  <line x1="424" y1="263.2" x2="451.6" y2="263.2"/>
  <line x1="424" y1="274.4" x2="451.6" y2="274.4"/>
</g>
<rect x="427" y="276.5" width="7.5" height="1.8" fill="#8c898a"/>
<rect x="455.5" y="276" width="1" height="6" fill="#6a696b"/>

<!-- ============ power cable ============ -->
<path d="M547,270 C553,259 552,242 534,237 C515,232 498,244 499,259 C500,272 508,282 516,288" fill="none" stroke="#a6b5cf" stroke-width="4.4"/>
<path d="M547,270 C553,259 552,242 534,237 C515,232 498,244 499,259 C500,272 508,282 516,288" fill="none" stroke="#cad6e9" stroke-width="2.8"/>
<path d="M543,287 C551,284 560,280 566.5,275.5" fill="none" stroke="#a6b5cf" stroke-width="3.8" stroke-linecap="round"/>
<path d="M543,287 C551,284 560,280 566.5,275.5" fill="none" stroke="#c4d0e5" stroke-width="2.2" stroke-linecap="round"/>
<path d="M540.5,266 L550.5,267.5 L548,277 L538.5,275.5 Z" fill="#aab6ee"/>
<path d="M528,274 L547.5,272.5 L545.5,296 L533,306.5 L515,293 L517.5,283 Z" fill="url(#plug)" opacity="0.95"/>
<ellipse cx="535" cy="282" rx="3.5" ry="4.5" transform="rotate(35 535 282)" fill="#7fd0b0" opacity="0.8"/>
<circle cx="531" cy="286.5" r="1" fill="#e08a9a"/>
<g stroke-linecap="round">
<line x1="520" y1="289" x2="511" y2="303" stroke="#6a6a6a" stroke-width="1.1"/>
<line x1="525" y1="290" x2="515" y2="305" stroke="#2a2a2a" stroke-width="1.8"/>
<line x1="528" y1="299" x2="521" y2="311" stroke="#6a6a6a" stroke-width="1.1"/>
</g>
<text class="lbl" x="483.8" y="330.3" font-size="15" letter-spacing="0.7">Power Cable</text>

<!-- monitor label -->
<text class="lbl" x="355.3" y="357.8" font-size="14" letter-spacing="1.0">VGA/HDMI</text>
<text class="lbl" x="347" y="375.7" font-size="16.2" letter-spacing="0.4">Video Monitor</text>

<!-- ============ red lines ============ -->
<g fill="none" stroke="#dc1414" stroke-width="2.4" stroke-linejoin="miter">
  <polyline points="211.8,171 211.8,227.8 132.5,227.8 132.5,242"/>
  <polyline points="290.8,168 290.8,277"/>
  <polyline points="314.5,167 314.5,194.4 341.5,194.4 341.5,166.5"/>
  <polyline points="326.5,194.4 326.5,209.4 384.5,209.4 384.5,249.5"/>
  <polyline points="443.8,158.5 443.8,193.4 520.8,193.4 520.8,222"/>
</g>
<g fill="#dc1414">
  <circle cx="211.8" cy="171" r="2.7"/>
  <circle cx="290.8" cy="168.3" r="2.7"/>
  <circle cx="314.7" cy="167.5" r="2.7"/>
  <circle cx="341.3" cy="166.7" r="2.7"/>
  <circle cx="444" cy="158.5" r="2.7"/>
  <polygon points="128.3,239 132.6,241.5 137,239 132.6,251"/>
  <polygon points="286.4,274 290.8,276.5 295.2,274 290.8,285.5"/>
  <polygon points="516.2,219.6 520.8,222 525.4,219.6 520.8,230.8"/>
</g>
</svg>
</body></html>
